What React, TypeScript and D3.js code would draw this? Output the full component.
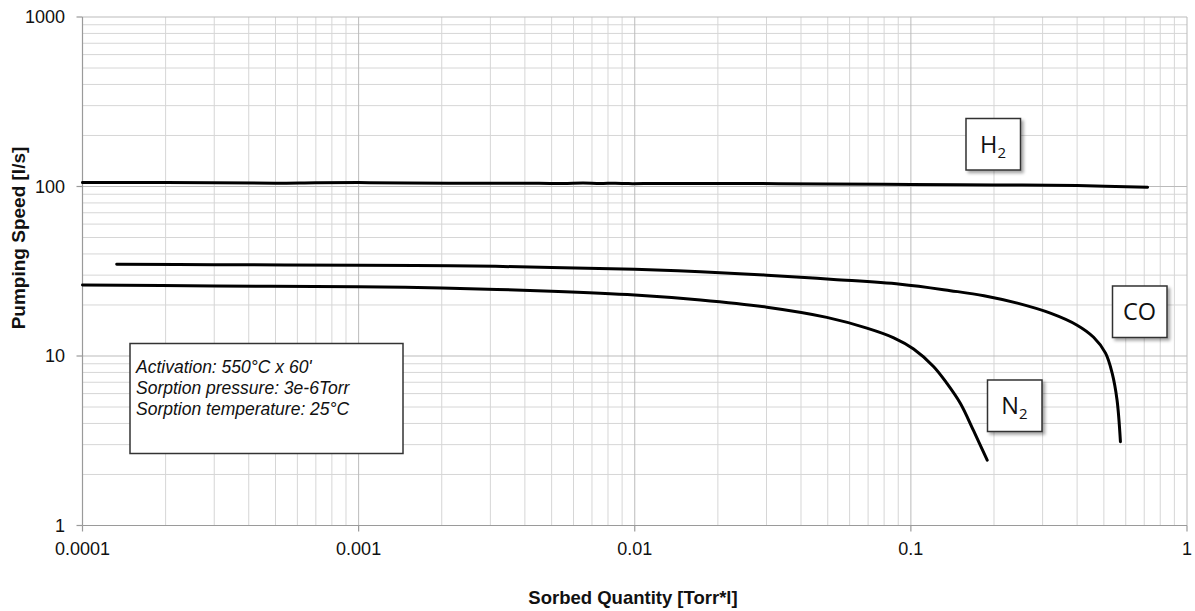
import React from 'react';
import * as d3 from 'd3';

// values (x: Torr*l, y: l/s)
const h2X = [0.0001, 0.0002, 0.0005, 0.0007, 0.001, 0.0015, 0.003, 0.0045, 0.0055, 0.0065, 0.0075, 0.0085, 0.0095, 0.012, 0.02, 0.05, 0.1, 0.2, 0.4, 0.72];
const h2Y = [105.5, 105.5, 104.6, 105.3, 105.5, 104.8, 104.6, 104.5, 104.1, 104.7, 104.1, 104.6, 104.0, 104.2, 104.2, 103.6, 102.8, 102.2, 101.2, 99];

const coX = [0.000133, 0.0003, 0.001, 0.00215, 0.005, 0.01, 0.0173, 0.0301, 0.0525, 0.0916, 0.139, 0.184, 0.243, 0.32, 0.4, 0.459, 0.507, 0.536, 0.558, 0.574];
const coY = [34.8, 34.6, 34.3, 34.1, 33.3, 32.5, 31.4, 30.0, 28.3, 26.5, 24.3, 22.7, 20.5, 17.9, 15.2, 12.9, 10.4, 7.9, 5.5, 3.12];

const n2X = [0.0001, 0.0003, 0.001, 0.002, 0.005, 0.01, 0.0173, 0.0301, 0.0496, 0.0693, 0.0867, 0.1023, 0.121, 0.135, 0.151, 0.169, 0.189];
const n2Y = [26.2, 25.9, 25.6, 25.2, 24.1, 22.9, 21.4, 19.4, 16.9, 14.6, 12.8, 11.0, 8.65, 6.9, 5.26, 3.6, 2.43];

const xTicks = [0.0001, 0.001, 0.01, 0.1, 1];
const xTickLabels = ['0.0001', '0.001', '0.01', '0.1', '1'];
const yTicks = [1, 10, 100, 1000];
const yTickLabels = ['1', '10', '100', '1000'];

const noteLines = ['Activation: 550°C x 60\'', 'Sorption pressure: 3e-6Torr', 'Sorption temperature: 25°C'];

const W = 1195;
const H = 611;
const left = 82.5, right = 1187, top = 17, bottom = 525.5;

export default function App() {
  const x = d3.scaleLog().domain([1e-4, 1]).range([left, right]);
  const y = d3.scaleLog().domain([1, 1000]).range([bottom, top]);

  const line = d3.line<[number, number]>()
    .x(d => x(d[0]))
    .y(d => y(d[1]))
    .curve(d3.curveCatmullRom.alpha(0.5));

  const series = [
    h2X.map((v, i) => [v, h2Y[i]] as [number, number]),
    coX.map((v, i) => [v, coY[i]] as [number, number]),
    n2X.map((v, i) => [v, n2Y[i]] as [number, number]),
  ];

  // grid values: 2..9 per decade
  const xGrid: number[] = [];
  for (let e = -4; e < 0; e++) for (let k = 2; k <= 9; k++) xGrid.push(k * Math.pow(10, e));
  const yGrid: number[] = [];
  for (let e = 0; e < 3; e++) for (let k = 2; k <= 9; k++) yGrid.push(k * Math.pow(10, e));

  const font = '"Liberation Sans", Arial, sans-serif';
  const labelFont = '"Open Sans", sans-serif';

  // label boxes (gas names)
  const labelBox = (bx: number, by: number, main: string, sub: string | null, key: string) => (
    <g key={key}>
      <rect x={bx} y={by} width={54.5} height={51.5} fill="#fff" stroke="#333" strokeWidth={1.5} filter="url(#shadow)" />
      <text x={bx + 27} y={by + 34} textAnchor="middle" fontFamily={labelFont} fontSize={23.5} fill="#111">
        {main}
        {sub && <tspan fontSize={15} dy={5}>{sub}</tspan>}
      </text>
    </g>
  );

  return (
    <div style={{ position: 'absolute', left: 0, top: 0 }}>
      <svg width={W} height={H} style={{ display: 'block', background: '#fff' }}>
        <defs>
          <filter id="shadow" x="-20%" y="-20%" width="150%" height="150%">
            <feDropShadow dx={2.5} dy={2.5} stdDeviation={1.5} floodColor="#000" floodOpacity={0.35} />
          </filter>
        </defs>

        {/* minor grid */}
        {xGrid.map((v, i) => (
          <line key={'xg' + i} x1={x(v)} x2={x(v)} y1={top} y2={bottom} stroke="#d6d6d6" strokeWidth={1} />
        ))}
        {yGrid.map((v, i) => (
          <line key={'yg' + i} x1={left} x2={right} y1={y(v)} y2={y(v)} stroke="#d6d6d6" strokeWidth={1} />
        ))}
        {/* major grid */}
        {xTicks.slice(1).map((v, i) => (
          <line key={'xm' + i} x1={x(v)} x2={x(v)} y1={top} y2={bottom} stroke="#bbbbbb" strokeWidth={1} />
        ))}
        {yTicks.slice(1).map((v, i) => (
          <line key={'ym' + i} x1={left} x2={right} y1={y(v)} y2={y(v)} stroke="#bbbbbb" strokeWidth={1} />
        ))}

        {/* axes */}
        <line x1={left} x2={left} y1={top} y2={bottom} stroke="#9a9a9a" strokeWidth={1.2} />
        <line x1={left} x2={right} y1={bottom} y2={bottom} stroke="#9a9a9a" strokeWidth={1.2} />
        {yTicks.map((v, i) => (
          <g key={'yt' + i}>
            <line x1={left - 6} x2={left} y1={y(v)} y2={y(v)} stroke="#9a9a9a" strokeWidth={1.2} />
            <text x={65} y={y(v)} dy="0.36em" textAnchor="end" fontFamily={font} fontSize={18} fill="#111">{yTickLabels[i]}</text>
          </g>
        ))}
        {xTicks.map((v, i) => (
          <g key={'xt' + i}>
            <line x1={x(v)} x2={x(v)} y1={bottom} y2={bottom + 6} stroke="#9a9a9a" strokeWidth={1.2} />
            <text x={x(v)} y={555} textAnchor="middle" fontFamily={font} fontSize={18} fill="#111">{xTickLabels[i]}</text>
          </g>
        ))}

        {/* curves */}
        {series.map((s, i) => (
          <path key={'s' + i} d={line(s) || ''} fill="none" stroke="#000" strokeWidth={3} strokeLinejoin="round" strokeLinecap="round" />
        ))}

        {/* note box */}
        <rect x={130} y={343.5} width={273} height={110} fill="#fff" stroke="#333" strokeWidth={1.5} />
        {noteLines.map((t, i) => (
          <text key={'n' + i} x={136} y={373 + i * 21} fontFamily={font} fontStyle="italic" fontSize={17.5} fill="#111">{t}</text>
        ))}

        {labelBox(966, 118.5, 'H', '2', 'h2')}
        {labelBox(1112.5, 286, 'CO', null, 'co')}
        {labelBox(987.5, 380, 'N', '2', 'n2')}

        {/* axis titles */}
        <text transform="translate(25,238) rotate(-90)" textAnchor="middle" fontFamily={font} fontWeight="bold" fontSize={19} fill="#111">Pumping Speed [l/s]</text>
        <text x={633} y={604} textAnchor="middle" fontFamily={font} fontWeight="bold" fontSize={18.5} fill="#111">Sorbed Quantity [Torr*l]</text>
      </svg>
    </div>
  );
}
